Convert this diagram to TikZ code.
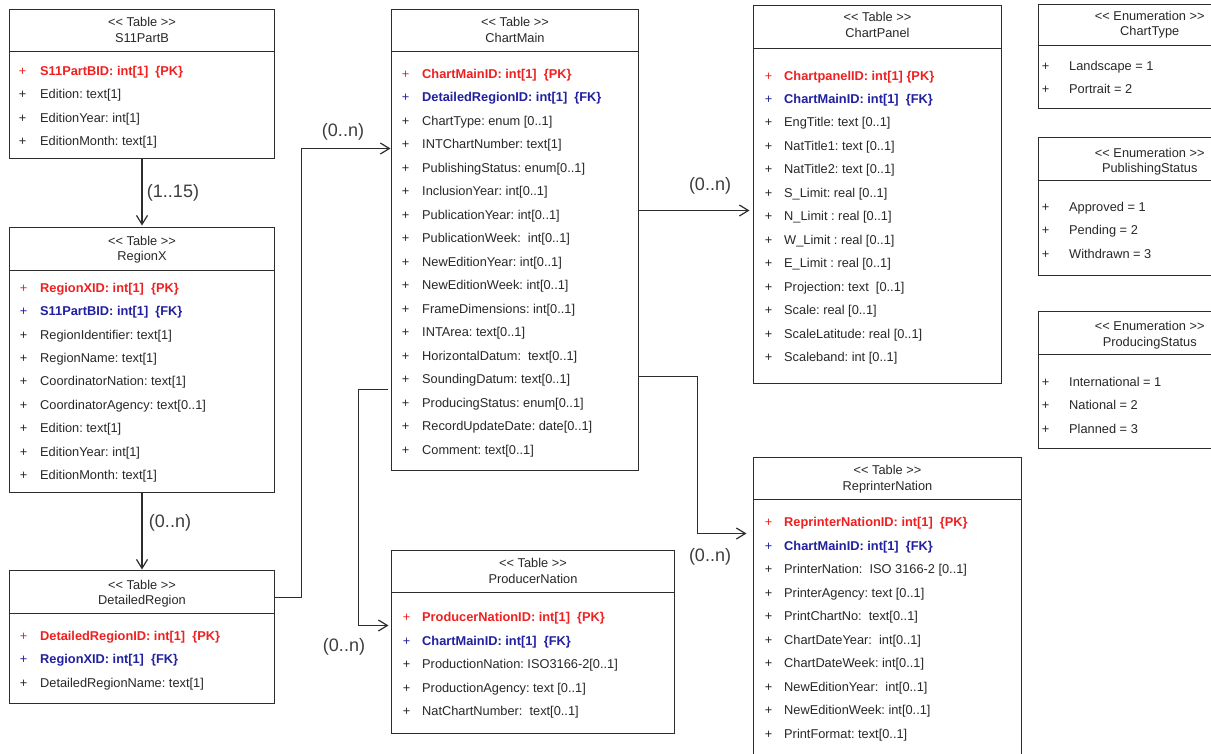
\documentclass[tikz,border=0pt]{standalone}
\usepackage{fontspec}
\setmainfont{Liberation Sans}
\usetikzlibrary{arrows.meta,fit}
\frenchspacing
\definecolor{pkred}{RGB}{240,32,32}
\definecolor{fkblue}{RGB}{32,32,160}
\definecolor{txt}{RGB}{40,40,40}
\definecolor{ln}{RGB}{45,45,45}
\newcommand\rowfont{\fontsize{12.8}{15}\selectfont\frenchspacing}
\newcommand\lblfont{\fontsize{18}{21}\selectfont}
\newcommand\umlcp{\color{pkred}}
\newcommand\umlcf{\color{fkblue}}
\newcommand\umlcn{}
\newcommand\umlbp{\bfseries}
\newcommand\umlbf{\bfseries}
\newcommand\umlbn{}
\newcommand\umlbox[6]{%
  \node[boxshape, fit={(#2,#3) (#4,#5)}] (#1) {};
  \draw[boxline] (#1.west |- 0,#6) -- (#1.east |- 0,#6);}
\newcommand\umlhead[5]{%
  \node[headtxt] (#1-st) at (#1.north |- 0,#2) {<\kern0pt< #4 >\kern0pt>};
  \node[headtxt] (#1-ti) at (#1.north |- 0,#3) {#5};}
\newcommand\umlrows[5]{%
  \foreach \k/\t [count=\i from 0] in {#5} {%
    \pgfmathsetmacro\yy{#3+\i*#4}%
    \path (#1.west |- 0,\yy) ++(#2,0) node[rowtxt,name=#1-p\i] {\csname umlc\k\endcsname +};
    \path (#1.west |- 0,\yy) ++(30.5,0) node[rowtxt,anchor=west,name=#1-r\i] {\csname umlc\k\endcsname\csname umlb\k\endcsname \t};
  }}
\begin{document}
\begin{tikzpicture}[x=1pt,y=-1pt,
  boxshape/.style={draw=ln, line width=1.3pt, inner sep=0pt, outer sep=0pt, rectangle},
  boxline/.style={draw=ln, line width=1.3pt},
  rowtxt/.style={inner sep=0pt, font=\rowfont, text=txt, text height=9.3pt, text depth=2.7pt},
  headtxt/.style={inner sep=0pt, font=\rowfont, text=txt, text height=9.3pt, text depth=2.7pt},
  lbl/.style={inner sep=0pt, font=\lblfont, text=txt!90, text height=13pt, text depth=3.8pt},
  conn/.style={draw=ln, line width=1.2pt, -{Straight Barb[length=9pt,width=11pt]}}]
\fill[white] (0,0) rectangle (1211,753);
\useasboundingbox (0,0) rectangle (1211,753);
\clip (0,0) rectangle (1211,753);

% S11PartB
\umlbox{s11}{9.5}{9.5}{274.5}{158.5}{51.5}
\umlhead{s11}{22.7}{39}{Table}{S11PartB}
\umlrows{s11}{13}{71.7}{23.6}{p/S11PartBID: int[1]\ \ \{PK\}, n/Edition: text[1], n/EditionYear: int[1], n/EditionMonth: text[1]}

% RegionX
\umlbox{regx}{9.5}{227.5}{274.5}{492.5}{270.5}
\umlhead{regx}{241.7}{257.3}{Table}{RegionX}
\umlrows{regx}{14}{289}{23.4}{p/RegionXID: int[1]\ \ \{PK\}, f/S11PartBID: int[1]\ \ \{FK\}, n/RegionIdentifier: text[1], n/RegionName: text[1], n/CoordinatorNation: text[1], n/CoordinatorAgency: text[0..1], n/Edition: text[1], n/EditionYear: int[1], n/EditionMonth: text[1]}

% DetailedRegion
\umlbox{detr}{9.5}{570.5}{274.5}{703.5}{613.5}
\umlhead{detr}{585.7}{601}{Table}{DetailedRegion}
\umlrows{detr}{14}{636.7}{23.7}{p/DetailedRegionID: int[1]\ \ \{PK\}, f/RegionXID: int[1]\ \ \{FK\}, n/DetailedRegionName: text[1]}

% ChartMain
\umlbox{cm}{391.5}{9.5}{638.5}{470.5}{51.5}
\umlhead{cm}{22.7}{39}{Table}{ChartMain}
\umlrows{cm}{14}{75}{23.5}{p/ChartMainID: int[1]\ \ \{PK\}, f/DetailedRegionID: int[1]\ \ \{FK\}, n/ChartType: enum [0..1], n/INTChartNumber: text[1], n/PublishingStatus: enum[0..1], n/InclusionYear: int[0..1], n/PublicationYear: int[0..1], n/PublicationWeek:\ \ int[0..1], n/NewEditionYear: int[0..1], n/NewEditionWeek: int[0..1], n/FrameDimensions: int[0..1], n/INTArea: text[0..1], n/HorizontalDatum:\ \ text[0..1], n/SoundingDatum: text[0..1], n/ProducingStatus: enum[0..1], n/RecordUpdateDate: date[0..1], n/Comment: text[0..1]}

% ProducerNation
\umlbox{pn}{391.5}{550.5}{674.5}{733.5}{592.5}
\umlhead{pn}{564}{580}{Table}{ProducerNation}
\umlrows{pn}{15}{618.3}{23.5}{p/ProducerNationID: int[1]\ \ \{PK\}, f/ChartMainID: int[1]\ \ \{FK\}, n/ProductionNation: ISO3166-2[0..1], n/ProductionAgency: text [0..1], n/NatChartNumber:\ \ text[0..1]}

% ChartPanel
\umlbox{cp}{753.5}{5.5}{1001.5}{383.5}{48.5}
\umlhead{cp}{18.3}{34.3}{Table}{ChartPanel}
\umlrows{cp}{15}{76.7}{23.47}{p/ChartpanelID: int[1] \{PK\}, f/ChartMainID: int[1]\ \ \{FK\}, n/EngTitle: text [0..1], n/NatTitle1: text [0..1], n/NatTitle2: text [0..1], n/S\_Limit: real [0..1], n/N\_Limit : real [0..1], n/W\_Limit : real [0..1], n/E\_Limit : real [0..1], n/Projection: text\ \ [0..1], n/Scale: real [0..1], n/ScaleLatitude: real [0..1], n/Scaleband: int [0..1]}

% ReprinterNation
\umlbox{rn}{753.5}{457.5}{1021.5}{775}{499.5}
\umlhead{rn}{470.7}{486.7}{Table}{ReprinterNation}
\umlrows{rn}{15}{523.3}{23.52}{p/ReprinterNationID: int[1]\ \ \{PK\}, f/ChartMainID: int[1]\ \ \{FK\}, n/PrinterNation:\ \ ISO 3166-2 [0..1], n/PrinterAgency: text [0..1], n/PrintChartNo:\ \ text[0..1], n/ChartDateYear:\ \ int[0..1], n/ChartDateWeek: int[0..1], n/NewEditionYear:\ \ int[0..1], n/NewEditionWeek: int[0..1], n/PrintFormat: text[0..1]}

% Enumerations
\umlbox{ect}{1038.5}{4.5}{1261}{108.5}{45.5}
\umlhead{ect}{16.7}{31.7}{Enumeration}{ChartType}
\umlrows{ect}{7}{66.7}{23.3}{n/Landscape = 1, n/Portrait = 2}

\umlbox{eps}{1038.5}{137.5}{1261}{275.5}{180.5}
\umlhead{eps}{154}{169}{Enumeration}{PublishingStatus}
\umlrows{eps}{7}{208.3}{23.35}{n/Approved = 1, n/Pending = 2, n/Withdrawn = 3}

\umlbox{epr}{1038.5}{311.5}{1261}{448.5}{354.5}
\umlhead{epr}{327.3}{343.3}{Enumeration}{ProducingStatus}
\umlrows{epr}{7}{383.3}{23.35}{n/International = 1, n/National = 2, n/Planned = 3}

% Connectors
\draw[conn, shorten >=2pt] (s11.south) -- (regx.north);
\draw[conn, shorten >=1pt] (regx.south) -- (detr.north);
\draw[conn, shorten >=1pt] (detr.east |- 0,597.5) -- ++(27,0) |- (cm.west |- 0,148.5);
\draw[conn, shorten >=4pt] (cm.east |- 0,210.5) -- (cp.west |- 0,210.5);
\draw[conn, shorten >=7pt] (cm.east |- 0,376.5) -- ++(59,0) |- (rn.west |- 0,533.5);
\draw[conn, shorten <=4pt, shorten >=3pt] (cm.west |- 0,389.5) -- ++(-33,0) |- (pn.west |- 0,625.5);

% Multiplicity labels
\node[lbl] (m1) at (173,193) {(1..15)};
\node[lbl] (m2) at (170,523) {(0..n)};
\node[lbl] (m3) at (343,131.7) {(0..n)};
\node[lbl] (m4) at (710,186) {(0..n)};
\node[lbl] (m5) at (710,556.7) {(0..n)};
\node[lbl] (m6) at (344,647) {(0..n)};
\end{tikzpicture}
\end{document}
